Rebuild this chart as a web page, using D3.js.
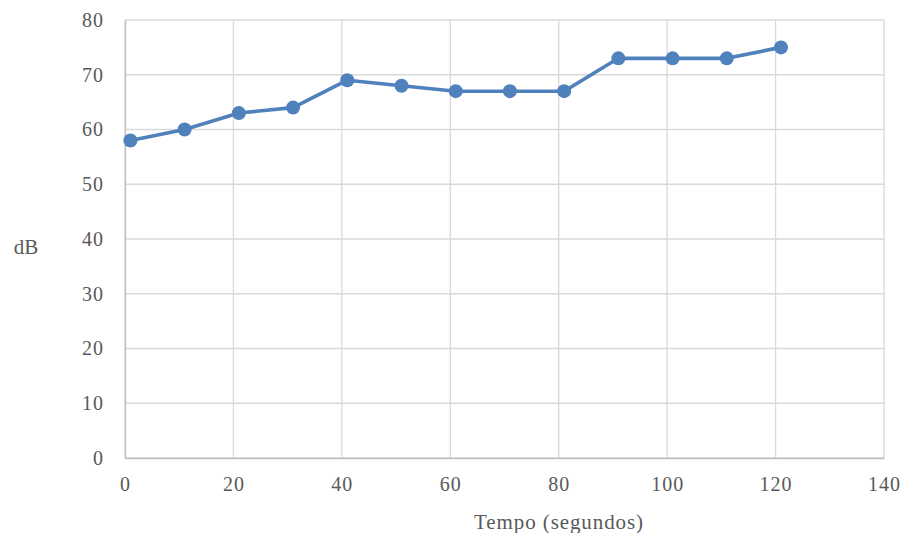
<!DOCTYPE html>
<html>
<head>
<meta charset="utf-8">
<script src="https://cdn.jsdelivr.net/npm/d3@7"></script>
<style>
  body { margin: 0; background: #fff; }
  svg text { font-family: "Liberation Serif", "DejaVu Serif", serif; fill: #595959; }
</style>
</head>
<body>
<div id="chart"></div>
<script>
// ── Data ─────────────────────────────────────────────
const tempo = [1, 11, 21, 31, 41, 51, 61, 71, 81, 91, 101, 111, 121];
const dB = [58, 60, 63, 64, 69, 68, 67, 67, 67, 73, 73, 73, 75];
const xTicks = [0, 20, 40, 60, 80, 100, 120, 140];
const yTicks = [0, 10, 20, 30, 40, 50, 60, 70, 80];

const w = 905, h = 533;
const margin = { top: 20, right: 21, bottom: 75, left: 125 };
const iw = w - margin.left - margin.right;
const ih = h - margin.top - margin.bottom;

const svg = d3.select('#chart').append('svg')
  .attr('width', w)
  .attr('height', h);

const g = svg.append('g')
  .attr('transform', `translate(${margin.left},${margin.top})`);

const x = d3.scaleLinear().domain([0, 140]).range([0, iw]);
const y = d3.scaleLinear().domain([0, 80]).range([ih, 0]);

// Gridlines
g.append('g')
  .selectAll('line.hg')
  .data(yTicks)
  .enter().append('line')
  .attr('x1', 0).attr('x2', iw)
  .attr('y1', d => y(d)).attr('y2', d => y(d))
  .attr('stroke', '#d9d9d9').attr('stroke-width', 1.3);

g.append('g')
  .selectAll('line.vg')
  .data(xTicks)
  .enter().append('line')
  .attr('x1', d => x(d)).attr('x2', d => x(d))
  .attr('y1', 0).attr('y2', ih)
  .attr('stroke', '#d9d9d9').attr('stroke-width', 1.3);

// Axes
const xAxis = g.append('g')
  .attr('transform', `translate(0,${ih})`)
  .call(d3.axisBottom(x).tickValues(xTicks).tickSize(0).tickPadding(19));
xAxis.selectAll('text').attr('font-size', '20px').attr('letter-spacing', '1px');
xAxis.select('.domain').attr('stroke', '#bfbfbf').attr('stroke-width', 1.3);

const yAxis = g.append('g')
  .call(d3.axisLeft(y).tickValues(yTicks).tickSize(0).tickPadding(21));
yAxis.selectAll('text').attr('font-size', '20px').attr('letter-spacing', '1px');
yAxis.select('.domain').attr('stroke', '#bfbfbf').attr('stroke-width', 1.3);

// Axis titles
svg.append('text')
  .attr('x', 559)
  .attr('y', 529)
  .attr('text-anchor', 'middle')
  .attr('font-size', '21px')
  .attr('letter-spacing', '0.9px')
  .text('Tempo (segundos)');

svg.append('text')
  .attr('x', 26)
  .attr('y', 254)
  .attr('text-anchor', 'middle')
  .attr('font-size', '21px')
  .text('dB');

// Line + markers
const pts = tempo.map((t, i) => ({ t, v: dB[i] }));

g.append('path')
  .datum(pts)
  .attr('fill', 'none')
  .attr('stroke', '#4f81bd')
  .attr('stroke-width', 3.6)
  .attr('stroke-linejoin', 'round')
  .attr('d', d3.line().x(d => x(d.t)).y(d => y(d.v)));

g.selectAll('circle')
  .data(pts)
  .enter().append('circle')
  .attr('cx', d => x(d.t))
  .attr('cy', d => y(d.v))
  .attr('r', 7)
  .attr('fill', '#4f81bd');
</script>
</body>
</html>
